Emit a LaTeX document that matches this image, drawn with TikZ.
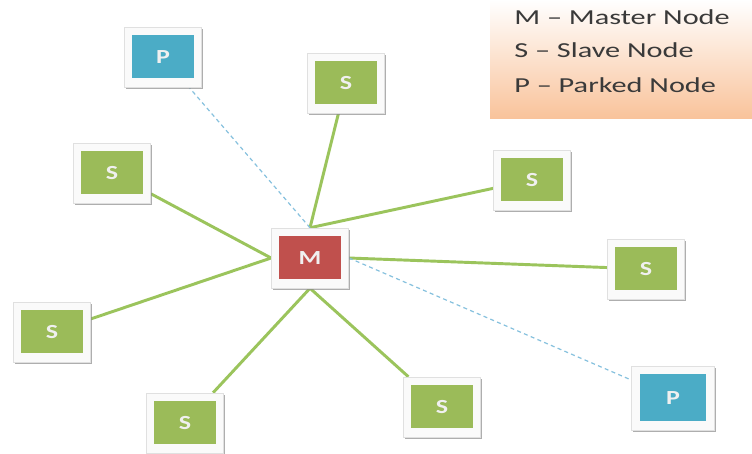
\documentclass[tikz,border=0pt]{standalone}
\usepackage{fontspec}
\setsansfont{Carlito}
\usetikzlibrary{shadows,backgrounds}

\definecolor{slavegreen}{HTML}{9BBB59}
\definecolor{masterred}{HTML}{C0504D}
\definecolor{parkblue}{HTML}{4BACC6}
\definecolor{linkgreen}{HTML}{9BC45C}
\definecolor{parkline}{HTML}{86C1DE}
\definecolor{legendpeach}{HTML}{F9C39B}
\definecolor{legendtext}{HTML}{3A3A3A}

\tikzset{
  unit/.style={rectangle, draw=black!12, line width=0.4pt, fill=black!2,
    minimum width=58pt, minimum height=45pt, inner sep=0pt,
    drop shadow={shadow xshift=1.2pt, shadow yshift=-1.5pt, fill=black!45, opacity=0.7},
    font=\sffamily\bfseries\fontsize{15}{15}\selectfont, text=white!94!black,
    path picture={\fill[#1]
      ([shift={(6pt,7pt)}]path picture bounding box.south west) rectangle
      ([shift={(-6pt,-6pt)}]path picture bounding box.north east);}},
  slave/.style={unit=slavegreen},
  master/.style={unit=masterred},
  parked/.style={unit=parkblue},
  link/.style={draw=linkgreen, line width=2.2pt},
  parklink/.style={draw=parkline, line width=0.9pt, dash pattern=on 3pt off 2.5pt},
  legendbox/.style={rectangle, inner sep=0pt, minimum width=196.5pt, minimum height=88.5pt,
    top color=white, bottom color=legendpeach},
  legendline/.style={anchor=base west, inner sep=0pt, text=legendtext,
    font=\sffamily\fontsize{16}{16}\selectfont}
}

\newcommand{\wide}[1]{\scalebox{1.3}[1]{#1}}

\begin{document}
\begin{tikzpicture}[x=0.75pt, y=-0.75pt]
  \useasboundingbox (0,0) rectangle (752,453);

  % legend panel
  \node[legendbox] (legend) at (621,59) {};
  \node[legendline] (legm) at (514,25) {\scalebox{1.42}[1]{M – Master Node}};
  \node[legendline] (legs) at (514,58) {\scalebox{1.42}[1]{S – Slave Node}};
  \node[legendline] (legp) at (514,92) {\scalebox{1.42}[1]{P – Parked Node}};

  % piconet members
  \node[master] (m)  at (310,258) {\wide{M}};
  \node[parked] (p1) at (163,57)  {\wide{P}};
  \node[parked, minimum width=62pt, minimum height=48pt] (p2) at (673,398) {\wide{P}};
  \node[slave]  (s1) at (346,83)  {\wide{S}};
  \node[slave]  (s2) at (532,180) {\wide{S}};
  \node[slave]  (s3) at (646,269) {\wide{S}};
  \node[slave]  (s4) at (112,173) {\wide{S}};
  \node[slave]  (s5) at (52,332)  {\wide{S}};
  \node[slave]  (s6) at (185,423) {\wide{S}};
  \node[slave]  (s7) at (442,407) {\wide{S}};

  % links to the master, kept behind the boxes
  \begin{scope}[on background layer]
    \fill[white] (0,0) rectangle (752,453);
    \draw[link] (m.north) -- (s1);
    \draw[link] (m.north) -- (s2);
    \draw[link] (m.east)  -- (s3);
    \draw[link] (m.west)  -- (s4);
    \draw[link] (m.west)  -- (s5);
    \draw[link] (m.south) -- (s6);
    \draw[link] (m.south) -- (s7);
    \draw[parklink] (m.north) -- (p1);
    \draw[parklink] (m.east)  -- (p2);
  \end{scope}
\end{tikzpicture}
\end{document}
